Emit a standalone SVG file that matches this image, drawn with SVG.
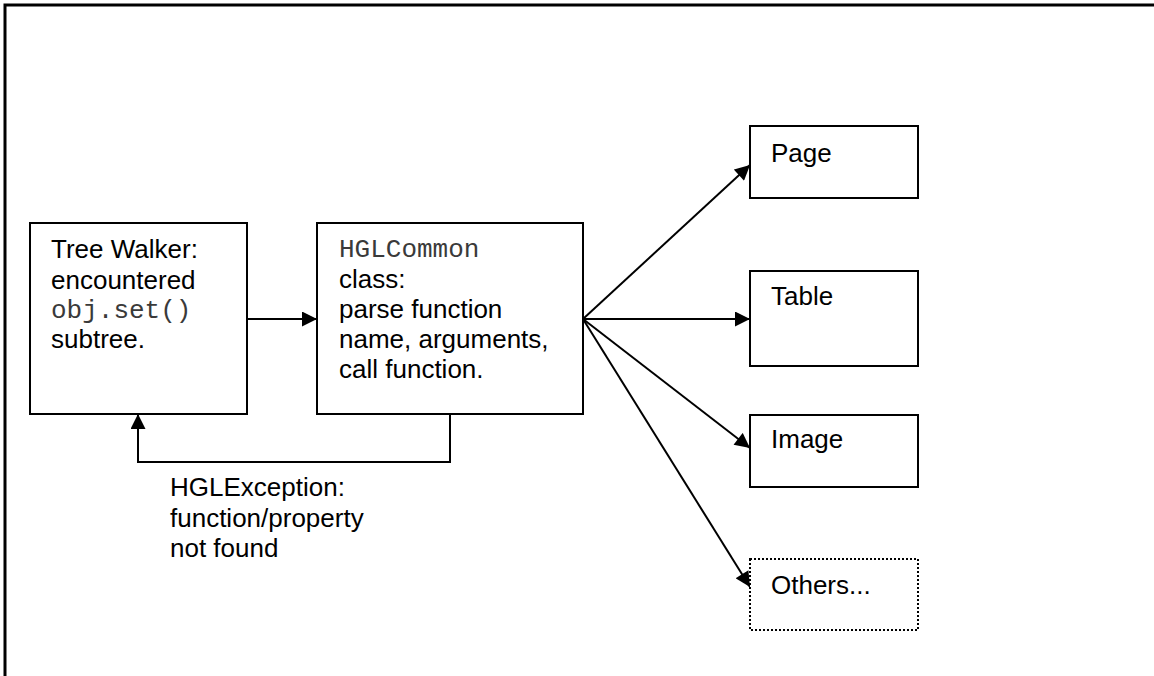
<svg xmlns="http://www.w3.org/2000/svg" width="1154" height="676" viewBox="0 0 1154 676">
  <defs>
    <marker id="arrow" viewBox="0 0 10 10" refX="10" refY="5" markerWidth="16" markerHeight="15" markerUnits="userSpaceOnUse" orient="auto">
      <path d="M0,0 L10,5 L0,10 z" fill="#000"/>
    </marker>
    <style>
      .box { fill: #fff; stroke: #000; stroke-width: 2; }
      .dotted { fill: #fff; stroke: #000; stroke-width: 2; stroke-dasharray: 2 2; }
      .frame { fill: none; stroke: #000; stroke-width: 3; }
      .link { fill: none; stroke: #000; stroke-width: 2; marker-end: url(#arrow); }
      .txt { font-family: "Liberation Sans", Arial, sans-serif; font-size: 26px; fill: #000; }
      .mono { font-family: "Liberation Mono", "Courier New", monospace; font-size: 26px; fill: #3a3a3a; }
    </style>
  </defs>

  <rect width="1154" height="676" fill="#fff"/>
  <!-- page frame, running past the right and bottom edges -->
  <rect class="frame" x="5" y="5" width="1200" height="720"/>

  <g id="connectors">
    <line class="link" x1="247" y1="319" x2="317" y2="319"/>
    <polyline class="link" points="450,414 450,462 138,462 138,414"/>
    <line class="link" x1="583" y1="319" x2="750" y2="165"/>
    <line class="link" x1="583" y1="319" x2="750" y2="319"/>
    <line class="link" x1="583" y1="319" x2="750" y2="448"/>
    <line class="link" x1="583" y1="319" x2="750" y2="587"/>
  </g>

  <g id="tree-walker">
    <rect class="box" x="30" y="223" width="217" height="191"/>
    <text class="txt" x="51" y="258">Tree Walker:</text>
    <text class="txt" x="51" y="289">encountered</text>
    <text class="mono" x="51" y="318">obj.set()</text>
    <text class="txt" x="51" y="348">subtree.</text>
  </g>

  <g id="hgl-common">
    <rect class="box" x="317" y="223" width="266" height="191"/>
    <text class="mono" x="339" y="257">HGLCommon</text>
    <text class="txt" x="339" y="288">class:</text>
    <text class="txt" x="339" y="318">parse function</text>
    <text class="txt" x="339" y="348">name, arguments,</text>
    <text class="txt" x="339" y="378">call function.</text>
  </g>

  <g id="hgl-exception">
    <text class="txt" x="170" y="496">HGLException:</text>
    <text class="txt" x="170" y="527">function/property</text>
    <text class="txt" x="170" y="557">not found</text>
  </g>

  <g id="page">
    <rect class="box" x="750" y="126" width="168" height="72"/>
    <text class="txt" x="771" y="162">Page</text>
  </g>

  <g id="table">
    <rect class="box" x="750" y="271" width="168" height="95"/>
    <text class="txt" x="771" y="305">Table</text>
  </g>

  <g id="image">
    <rect class="box" x="750" y="415" width="168" height="72"/>
    <text class="txt" x="771" y="448">Image</text>
  </g>

  <g id="others">
    <rect class="dotted" x="750" y="559" width="168" height="71"/>
    <text class="txt" x="771" y="594">Others...</text>
  </g>
</svg>
